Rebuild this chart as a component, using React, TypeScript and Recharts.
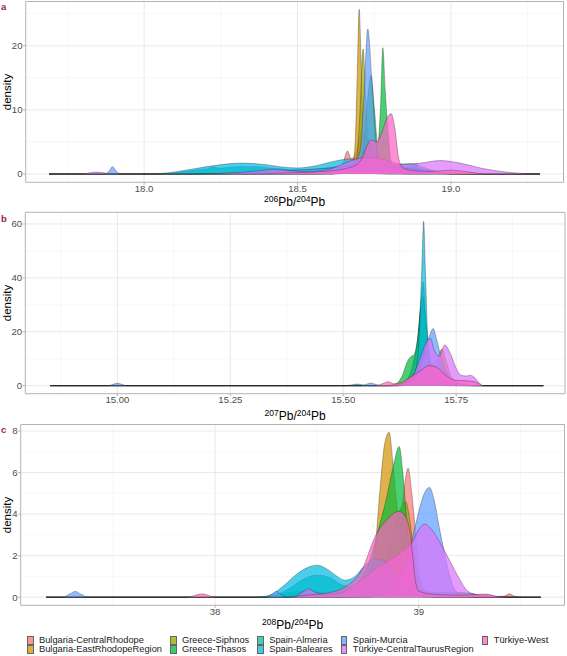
import React from 'react';
import { ComposedChart, Area, XAxis, YAxis, CartesianGrid, ReferenceArea } from 'recharts';

const FONT = "'Liberation Sans', Arial, Helvetica, sans-serif";

const GROUPS = [
  'Bulgaria-CentralRhodope',
  'Bulgaria-EastRhodopeRegion',
  'Greece-Siphnos',
  'Greece-Thasos',
  'Spain-Almeria',
  'Spain-Baleares',
  'Spain-Murcia',
  'Türkiye-CentralTaurusRegion',
  'Türkiye-West',
];
const COLORS = ['#F8766D', '#D39200', '#93AA00', '#00BA38', '#00C19F', '#00B9E3', '#619CFF', '#DB72FB', '#FF61C3'];

// ---------- Panel a: 206Pb/204Pb densities ([x, density]) ----------
const a_CentralRhodope = [[17.69,0],[18.55,0],[18.62,0.3],[18.645,1.2],[18.663,3.6],[18.675,2.4],[18.69,3.2],[18.71,6.5],[18.73,5.5],[18.76,2.2],[18.8,0.6],[18.86,0],[19.29,0]];
const a_EastRhodope = [[17.69,0],[18.6,0],[18.66,0.3],[18.68,1.2],[18.689,6],[18.695,16],[18.701,25.7],[18.707,18],[18.713,8],[18.72,2.5],[18.735,0.4],[18.77,0],[19.29,0]];
const a_Siphnos = [[17.69,0],[18.62,0],[18.68,0.5],[18.693,2.5],[18.703,9],[18.714,19.5],[18.722,12],[18.73,5],[18.742,1.5],[18.76,0.3],[18.8,0],[19.29,0]];
const a_Thasos = [[17.69,0],[18.6,0],[18.66,0.4],[18.7,1.5],[18.715,4.5],[18.728,11.5],[18.739,15.4],[18.75,10.5],[18.762,4.8],[18.771,11],[18.778,19.7],[18.786,13],[18.797,5.5],[18.805,2],[18.83,0.6],[18.86,0.8],[18.887,1.6],[18.9,0.6],[18.95,0.2],[19.0,0],[19.29,0]];
const a_Almeria = [[17.69,0],[18.05,0],[18.12,0.3],[18.18,0.7],[18.205,0.8],[18.226,1.1],[18.245,0.9],[18.3,1.15],[18.36,1.15],[18.42,0.9],[18.5,0.65],[18.58,0.9],[18.65,1.3],[18.72,1.5],[18.8,1.3],[18.87,1.1],[18.93,0.4],[19.0,0.05],[19.05,0],[19.29,0]];
const a_Baleares = [[17.69,0],[18.0,0],[18.08,0.2],[18.16,0.8],[18.24,1.4],[18.32,1.7],[18.39,1.5],[18.45,1.1],[18.5,0.95],[18.56,1.3],[18.62,2.0],[18.67,2.35],[18.72,2.0],[18.8,1.5],[18.87,1.6],[18.92,0.9],[18.97,0.2],[19.02,0],[19.29,0]];
const a_Murcia = [[17.69,0],[17.87,0],[17.885,0.4],[17.897,1.15],[17.91,0.4],[17.925,0],[18.15,0],[18.3,0.15],[18.42,0.4],[18.5,0.6],[18.6,0.9],[18.68,1.4],[18.703,3.5],[18.716,11.5],[18.729,22.6],[18.742,15],[18.754,6],[18.767,1.8],[18.8,1.0],[18.88,0.8],[18.95,0.4],[19.03,0.1],[19.1,0],[19.29,0]];
const a_CentralTaurus = [[17.69,0],[17.8,0.05],[17.846,0.3],[17.89,0.05],[17.95,0],[18.15,0],[18.25,0.1],[18.35,0.4],[18.43,0.75],[18.48,0.5],[18.53,0.35],[18.6,0.7],[18.66,1.8],[18.72,2.6],[18.78,2.3],[18.84,1.5],[18.9,1.7],[18.965,2.1],[19.03,1.7],[19.1,0.9],[19.18,0.3],[19.25,0.05],[19.29,0]];
const a_West = [[17.69,0],[18.35,0],[18.45,0.15],[18.55,0.3],[18.64,0.7],[18.69,1.4],[18.712,2.6],[18.728,4.6],[18.742,5.3],[18.758,5.0],[18.775,6.5],[18.792,8.8],[18.805,9.4],[18.817,7.2],[18.828,3],[18.84,1.1],[18.87,0.6],[18.93,0.4],[19.0,0.6],[19.06,0.3],[19.12,0],[19.29,0]];

// ---------- Panel b: 207Pb/204Pb densities ----------
const b_CentralRhodope = [[14.851,0],[15.6,0],[15.64,0.8],[15.655,4],[15.664,14],[15.672,28.8],[15.679,16],[15.688,6],[15.7,2.5],[15.72,1],[15.75,0.2],[15.78,0],[15.943,0]];
const b_EastRhodope = [[14.851,0],[15.62,0],[15.65,1.5],[15.663,9],[15.672,22],[15.678,30],[15.685,16],[15.695,8],[15.708,10],[15.718,13.5],[15.728,9],[15.74,3],[15.76,0.5],[15.79,0],[15.943,0]];
const b_Siphnos = [[14.851,0],[15.62,0],[15.645,2],[15.66,10],[15.67,24],[15.677,33],[15.685,18],[15.695,6],[15.71,2],[15.74,0.3],[15.77,0],[15.943,0]];
const b_Thasos = [[14.851,0],[15.59,0],[15.615,0.6],[15.63,3.5],[15.642,9],[15.65,10.8],[15.657,11.5],[15.664,17],[15.671,29],[15.677,38.6],[15.683,24],[15.69,10],[15.7,3.5],[15.72,0.8],[15.75,0],[15.943,0]];
const b_Almeria = [[14.851,0],[15.5,0],[15.518,0.3],[15.532,0.6],[15.546,0.2],[15.56,0],[15.62,0],[15.64,2],[15.655,8],[15.667,20],[15.675,33],[15.682,25],[15.69,12],[15.7,5],[15.72,1.5],[15.76,0.3],[15.8,0],[15.943,0]];
const b_Baleares = [[14.851,0],[15.62,0],[15.645,1],[15.66,5],[15.668,18],[15.674,44],[15.678,61],[15.682,42],[15.687,18],[15.695,6],[15.71,1.2],[15.73,0],[15.943,0]];
const b_Murcia = [[14.851,0],[14.98,0],[14.99,0.5],[15.0,0.9],[15.01,0.5],[15.02,0],[15.54,0],[15.551,0.5],[15.561,1],[15.571,0.5],[15.585,0],[15.63,0],[15.65,1.5],[15.668,6],[15.683,14],[15.692,19],[15.699,21.2],[15.707,17],[15.716,11],[15.728,5],[15.745,1.5],[15.77,0.5],[15.8,0],[15.943,0]];
const b_CentralTaurus = [[14.851,0],[15.6,0],[15.63,0.8],[15.655,4],[15.672,11],[15.685,16.5],[15.693,17.5],[15.702,13],[15.712,11],[15.725,15.1],[15.737,12],[15.75,6.5],[15.76,4],[15.772,3.6],[15.781,3.9],[15.791,3],[15.8,1.2],[15.81,0],[15.943,0]];
const b_West = [[14.851,0],[15.57,0],[15.588,0.8],[15.6,1.5],[15.612,0.7],[15.625,1],[15.645,2.8],[15.67,5.5],[15.69,7.5],[15.71,6.5],[15.73,3.5],[15.75,2],[15.775,1.8],[15.795,1.2],[15.81,0],[15.943,0]];

// ---------- Panel c: 208Pb/204Pb densities ----------
const c_CentralRhodope = [[37.17,0],[38.7,0],[38.8,0.3],[38.87,1.2],[38.905,3],[38.928,5.2],[38.948,6.21],[38.966,5],[38.985,3],[39.0,1.3],[39.03,0.35],[39.1,0.1],[39.3,0],[39.42,0.05],[39.445,0.16],[39.47,0.05],[39.5,0],[39.6,0]];
const c_EastRhodope = [[37.17,0],[38.6,0],[38.7,0.3],[38.76,1.2],[38.79,2.8],[38.81,5.2],[38.833,7.4],[38.855,7.94],[38.872,6.6],[38.888,4.8],[38.905,3.4],[38.93,2],[38.96,0.7],[39.0,0.1],[39.05,0],[39.6,0]];
const c_Siphnos = [[37.17,0],[38.65,0],[38.75,0.3],[38.83,1.5],[38.88,3.2],[38.912,4.3],[38.935,4.6],[38.955,3.8],[38.975,2.2],[38.995,0.9],[39.03,0.2],[39.08,0],[39.6,0]];
const c_Thasos = [[37.17,0],[38.25,0],[38.3,0.1],[38.38,0.25],[38.46,0.3],[38.55,0.2],[38.62,0.25],[38.7,0.7],[38.76,1.8],[38.8,3.2],[38.84,4.7],[38.875,6.3],[38.904,7.25],[38.922,6],[38.938,4],[38.955,2.2],[38.975,0.8],[39.0,0.3],[39.05,0.25],[39.15,0.25],[39.25,0.2],[39.32,0.05],[39.4,0],[39.6,0]];
const c_Almeria = [[37.17,0],[38.22,0],[38.3,0.12],[38.37,0.45],[38.43,0.85],[38.5,1.06],[38.56,0.95],[38.573,0.9],[38.62,0.6],[38.68,0.5],[38.74,0.65],[38.8,0.9],[38.86,1.0],[38.92,0.7],[38.98,0.25],[39.05,0.05],[39.1,0],[39.6,0]];
const c_Baleares = [[37.17,0],[38.2,0],[38.27,0.1],[38.33,0.5],[38.4,1.1],[38.46,1.45],[38.503,1.54],[38.55,1.35],[38.6,1.0],[38.636,0.82],[38.68,0.95],[38.734,1.5],[38.78,1.85],[38.84,1.7],[38.9,1.0],[38.95,0.35],[39.0,0.05],[39.05,0],[39.6,0]];
const c_Murcia = [[37.17,0],[37.25,0],[37.285,0.15],[37.313,0.28],[37.34,0.15],[37.375,0],[38.25,0],[38.28,0.15],[38.3,0.28],[38.32,0.15],[38.35,0],[38.75,0],[38.85,0.3],[38.92,1.3],[38.97,2.9],[39.005,4.3],[39.03,5.05],[39.053,5.28],[39.075,4.7],[39.1,3.4],[39.125,2.2],[39.15,1.1],[39.178,0.35],[39.22,0.05],[39.27,0],[39.6,0]];
const c_CentralTaurus = [[37.17,0],[38.38,0],[38.43,0.25],[38.459,0.4],[38.49,0.25],[38.55,0.1],[38.62,0.2],[38.7,0.7],[38.78,1.3],[38.86,1.8],[38.93,2.3],[38.97,2.7],[39.0,3.25],[39.028,3.52],[39.06,3.3],[39.1,2.7],[39.145,1.9],[39.196,0.95],[39.24,0.3],[39.29,0.1],[39.33,0.12],[39.37,0.05],[39.42,0],[39.6,0]];
const c_West = [[37.17,0],[37.86,0],[37.936,0.16],[38.0,0],[38.35,0],[38.45,0.1],[38.55,0.2],[38.64,0.5],[38.72,1.3],[38.79,3.0],[38.85,3.8],[38.902,4.13],[38.94,3.8],[38.955,3.2],[38.97,2.0],[38.982,0.9],[39.0,0.3],[39.06,0.15],[39.2,0.1],[39.33,0.15],[39.38,0.05],[39.45,0],[39.6,0]];

// ---------- axis ticks ----------
const A_XTICKS = [18.0, 18.5, 19.0];
const A_XMINOR = [17.75, 18.25, 18.75, 19.25];
const A_YTICKS = [0, 10, 20];
const A_YMINOR = [5, 15, 25];
const B_XTICKS = [15.0, 15.25, 15.5, 15.75];
const B_XMINOR = [14.875, 15.125, 15.375, 15.625, 15.875];
const B_YTICKS = [0, 20, 40, 60];
const B_YMINOR = [10, 30, 50];
const C_XTICKS = [38, 39];
const C_XMINOR = [37.5, 38.5, 39.5];
const C_YTICKS = [0, 2, 4, 6, 8];
const C_YMINOR = [1, 3, 5, 7];

const toPoints = (arr: number[][]) => arr.map(([x, y]) => ({ x, y }));

const PANELS = [
  {
    key: 'a', mass: '206', top: 0, height: 207,
    margin: { top: 1.5, right: 3.5, bottom: 0, left: 0 }, yWidth: 25.7, xHeight: 24.7,
    xDomain: [17.614, 19.367], yDomain: [-1.29, 26.9],
    xTicks: A_XTICKS, xMinor: A_XMINOR, yTicks: A_YTICKS, yMinor: A_YMINOR,
    fmt: (v: number) => v.toFixed(1),
    series: [a_CentralRhodope, a_EastRhodope, a_Siphnos, a_Thasos, a_Almeria, a_Baleares, a_Murcia, a_CentralTaurus, a_West],
    titleY: 201.5, labelY: 7,
  },
  {
    key: 'b', mass: '207', top: 207, height: 214,
    margin: { top: 5.3, right: 2, bottom: 0, left: 0 }, yWidth: 25.3, xHeight: 27.3,
    xDomain: [14.796, 15.991], yDomain: [-2.97, 64.34],
    xTicks: B_XTICKS, xMinor: B_XMINOR, yTicks: B_YTICKS, yMinor: B_YMINOR,
    fmt: (v: number) => v.toFixed(2),
    series: [b_CentralRhodope, b_EastRhodope, b_Siphnos, b_Thasos, b_Almeria, b_Baleares, b_Murcia, b_CentralTaurus, b_West],
    titleY: 415.5, labelY: 218.5,
  },
  {
    key: 'c', mass: '208', top: 421, height: 214,
    margin: { top: 3.5, right: 2.5, bottom: 0, left: 0 }, yWidth: 20.7, xHeight: 29.7,
    xDomain: [37.045, 39.716], yDomain: [-0.39, 8.31],
    xTicks: C_XTICKS, xMinor: C_XMINOR, yTicks: C_YTICKS, yMinor: C_YMINOR,
    fmt: (v: number) => String(v),
    series: [c_CentralRhodope, c_EastRhodope, c_Siphnos, c_Thasos, c_Almeria, c_Baleares, c_Murcia, c_CentralTaurus, c_West],
    titleY: 624.5, labelY: 430,
  },
];

const tickStyle = { fontSize: 9.6, fill: '#4d4d4d', fontFamily: FONT };
const supStyle: React.CSSProperties = { fontSize: 8.5, verticalAlign: 'top', position: 'relative', top: -1.5, lineHeight: '8px' };

function Panel({ p }: { p: any }) {
  const plotTop = p.top + p.margin.top;
  const plotBottom = p.top + p.height - p.xHeight;
  const plotLeft = p.yWidth;
  const plotRight = 567 - p.margin.right;
  const cx = (plotLeft + plotRight) / 2;
  const cy = (plotTop + plotBottom) / 2;
  return (
    <>
      <div style={{ position: 'absolute', left: 0, top: p.top }}>
        <ComposedChart width={567} height={p.height} margin={p.margin}>
          <CartesianGrid verticalValues={p.xMinor} horizontalValues={p.yMinor} stroke="#f1f1f1" strokeWidth={0.6} />
          <CartesianGrid verticalValues={p.xTicks} horizontalValues={p.yTicks} stroke="#e6e6e6" strokeWidth={0.9} />
          <XAxis
            type="number" dataKey="x" domain={p.xDomain} ticks={p.xTicks} allowDataOverflow
            height={p.xHeight} axisLine={false} tickLine={{ stroke: '#b3b3b3' }} tickSize={2.6} tickMargin={0.2}
            tick={tickStyle} tickFormatter={p.fmt} interval={0}
          />
          <YAxis
            type="number" domain={p.yDomain} ticks={p.yTicks} allowDataOverflow
            width={p.yWidth} axisLine={false} tickLine={{ stroke: '#b3b3b3' }} tickSize={2.6} tickMargin={0.6}
            tick={tickStyle} interval={0}
          />
          {p.series.map((s: number[][], i: number) => (
            <Area
              key={GROUPS[i]} name={GROUPS[i]} data={toPoints(s)} dataKey="y" type="monotone"
              fill={COLORS[i]} fillOpacity={0.7} stroke="#222" strokeOpacity={0.6} strokeWidth={0.55}
              baseValue={0} dot={false} activeDot={false} isAnimationActive={false}
            />
          ))}
          <ReferenceArea x1={p.xDomain[0]} x2={p.xDomain[1]} y1={p.yDomain[0]} y2={p.yDomain[1]}
            fill="none" fillOpacity={0} stroke="#b3b3b3" strokeWidth={1} ifOverflow="extendDomain" />
        </ComposedChart>
      </div>
      <div style={{ position: 'absolute', left: 1, top: p.labelY - 6, fontSize: 9.5, fontWeight: 'bold', color: '#9b1b5a', lineHeight: '12px' }}>
        {p.key}
      </div>
      <div style={{ position: 'absolute', left: 7, top: cy, transform: 'translate(-50%, -50%) rotate(-90deg)', fontSize: 11.5, color: '#000', whiteSpace: 'nowrap', lineHeight: '12px' }}>
        density
      </div>
      <div style={{ position: 'absolute', left: cx, top: p.titleY, transform: 'translate(-50%, -50%)', fontSize: 12, color: '#000', whiteSpace: 'nowrap', lineHeight: '10px' }}>
        <sup style={supStyle}>{p.mass}</sup>Pb/<sup style={supStyle}>204</sup>Pb
      </div>
    </>
  );
}

const LEGEND_COLUMNS = [[0, 1], [2, 3], [4, 5], [6, 7], [8]];

function LegendBlock() {
  return (
    <div style={{ position: 'absolute', left: 27, top: 636, display: 'flex', flexDirection: 'row', gap: 8 }}>
      {LEGEND_COLUMNS.map((col, ci) => (
        <div key={ci} style={{ display: 'flex', flexDirection: 'column' }}>
          {col.map((gi) => (
            <div key={gi} style={{ display: 'flex', alignItems: 'center', height: 9 }}>
              <div style={{ width: 4.5, height: 7.6, background: COLORS[gi], opacity: 0.75, border: '0.5px solid #333', boxSizing: 'content-box' }} />
              <span style={{ marginLeft: 5.5, fontSize: 9.3, color: '#1a1a1a', whiteSpace: 'nowrap', lineHeight: '9px' }}>{GROUPS[gi]}</span>
            </div>
          ))}
        </div>
      ))}
    </div>
  );
}

export default function App() {
  return (
    <div style={{ position: 'absolute', left: 0, top: 0, width: 567, height: 656, background: '#fff', fontFamily: FONT, overflow: 'hidden' }}>
      {PANELS.map((p) => <Panel key={p.key} p={p} />)}
      <LegendBlock />
    </div>
  );
}
